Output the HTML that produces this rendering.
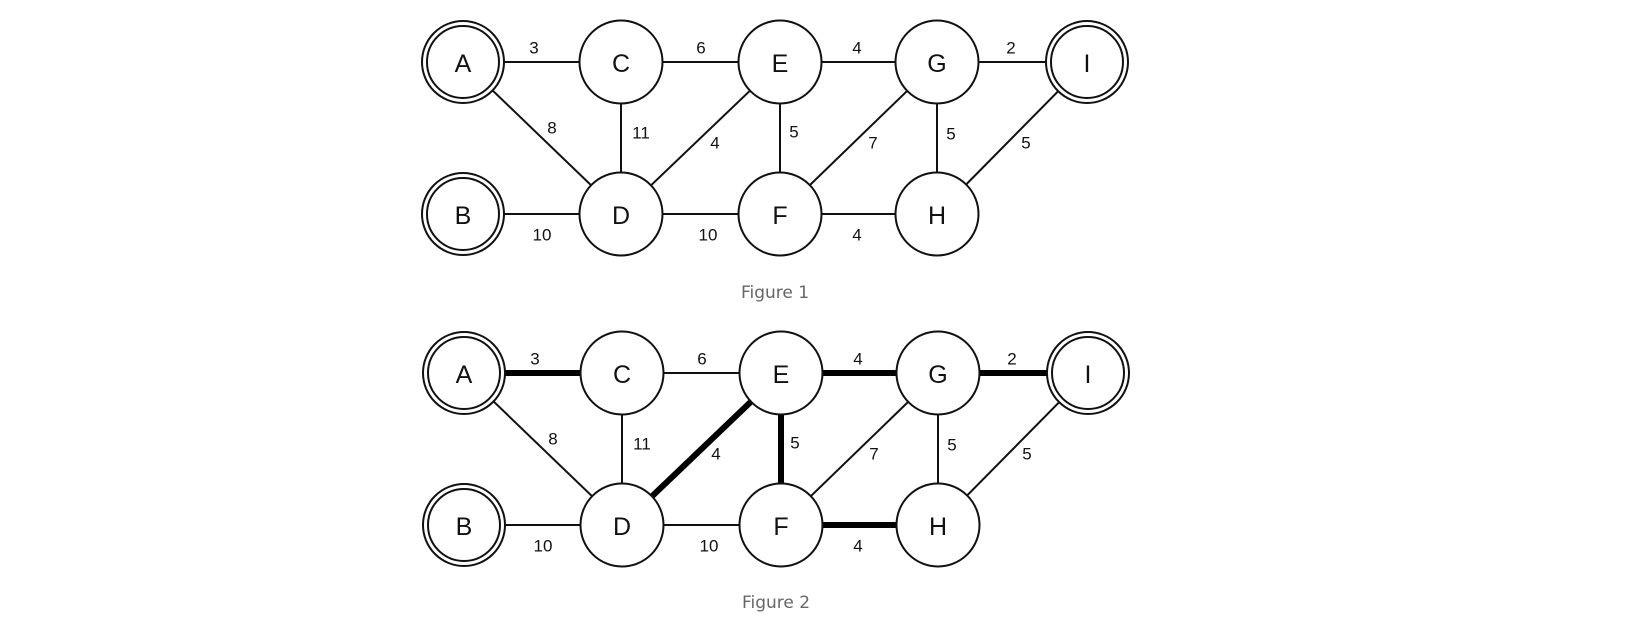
<!DOCTYPE html>
<html><head><meta charset="utf-8"><style>
html,body{margin:0;padding:0;background:#fff;}
svg{display:block;}
.n{font-family:"Liberation Sans",sans-serif;font-size:25px;fill:#111;text-anchor:middle;dominant-baseline:central;}
.l{font-family:"Liberation Sans",sans-serif;font-size:17px;fill:#111;text-anchor:middle;dominant-baseline:central;}
.cap{font-family:"DejaVu Sans","Liberation Sans",sans-serif;font-size:17px;fill:#666;text-anchor:middle;dominant-baseline:central;}
</style></head><body>
<svg width="1636" height="634" viewBox="0 0 1636 634" xmlns="http://www.w3.org/2000/svg">
<defs>
<g id="graph">
  <g stroke="#111" stroke-width="2" fill="none">
    <line x1="463" y1="62" x2="621" y2="62"/>
    <line x1="621" y1="62" x2="780" y2="62"/>
    <line x1="780" y1="62" x2="937" y2="62"/>
    <line x1="937" y1="62" x2="1087" y2="62"/>
    <line x1="463" y1="214" x2="621" y2="214"/>
    <line x1="621" y1="214" x2="780" y2="214"/>
    <line x1="780" y1="214" x2="937" y2="214"/>
    <line x1="463" y1="62" x2="621" y2="214"/>
    <line x1="621" y1="62" x2="621" y2="214"/>
    <line x1="780" y1="62" x2="621" y2="214"/>
    <line x1="780" y1="62" x2="780" y2="214"/>
    <line x1="937" y1="62" x2="780" y2="214"/>
    <line x1="937" y1="62" x2="937" y2="214"/>
    <line x1="1087" y1="62" x2="937" y2="214"/>
  </g>
</g>
<g id="nodes">
  <g stroke="#111" stroke-width="2" fill="#fff">
    <circle cx="463" cy="62" r="41"/><circle cx="463" cy="62" r="36"/>
    <circle cx="463" cy="214" r="41"/><circle cx="463" cy="214" r="36"/>
    <circle cx="1087" cy="62" r="41"/><circle cx="1087" cy="62" r="36"/>
    <circle cx="621" cy="62" r="41.5"/>
    <circle cx="780" cy="62" r="41.5"/>
    <circle cx="937" cy="62" r="41.5"/>
    <circle cx="621" cy="214" r="41.5"/>
    <circle cx="780" cy="214" r="41.5"/>
    <circle cx="937" cy="214" r="41.5"/>
  </g>
  <text class="n" x="463" y="64">A</text>
  <text class="n" x="463" y="216">B</text>
  <text class="n" x="621" y="64">C</text>
  <text class="n" x="621" y="216">D</text>
  <text class="n" x="780" y="64">E</text>
  <text class="n" x="780" y="216">F</text>
  <text class="n" x="937" y="64">G</text>
  <text class="n" x="937" y="216">H</text>
  <text class="n" x="1087" y="64">I</text>
  <text class="l" x="534" y="48">3</text>
  <text class="l" x="701" y="48">6</text>
  <text class="l" x="857" y="48">4</text>
  <text class="l" x="1011" y="48">2</text>
  <text class="l" x="552" y="128">8</text>
  <text class="l" x="641" y="133">11</text>
  <text class="l" x="715" y="143">4</text>
  <text class="l" x="794" y="132">5</text>
  <text class="l" x="873" y="143">7</text>
  <text class="l" x="951" y="134">5</text>
  <text class="l" x="1026" y="143">5</text>
  <text class="l" x="542" y="235">10</text>
  <text class="l" x="708" y="235">10</text>
  <text class="l" x="857" y="235">4</text>
</g>
</defs>
<use href="#graph"/>
<use href="#nodes"/>
<text class="cap" x="775" y="293">Figure 1</text>
<g transform="translate(1,311)">
  <use href="#graph"/>
  <g stroke="#000" stroke-width="6">
    <line x1="463" y1="62" x2="621" y2="62"/>
    <line x1="780" y1="62" x2="937" y2="62"/>
    <line x1="937" y1="62" x2="1087" y2="62"/>
    <line x1="780" y1="62" x2="621" y2="214"/>
    <line x1="780" y1="62" x2="780" y2="214"/>
    <line x1="780" y1="214" x2="937" y2="214"/>
  </g>
  <use href="#nodes"/>
</g>
<text class="cap" x="776" y="603">Figure 2</text>
</svg>
</body></html>
